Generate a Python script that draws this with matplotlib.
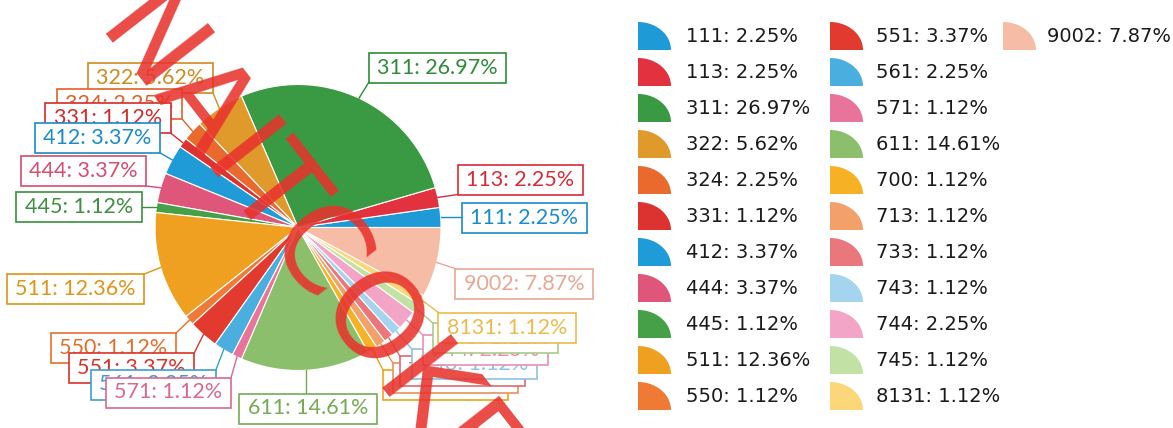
import numpy as np
import matplotlib
matplotlib.use("Agg")
import matplotlib.pyplot as plt
from matplotlib.patches import Rectangle, Polygon

# ---------------- data ----------------
categories = ["111", "113", "311", "322", "324", "331", "412", "444", "445",
              "511", "550", "551", "561", "571", "611", "700", "713", "733",
              "743", "744", "745", "8131", "9002"]
percentages = [2.25, 2.25, 26.97, 5.62, 2.25, 1.12, 3.37, 3.37, 1.12,
               12.36, 1.12, 3.37, 2.25, 1.12, 14.61, 1.12, 1.12, 1.12,
               1.12, 2.25, 1.12, 1.12, 7.87]
slice_colors = ["#1e9ad6", "#e2313f", "#3a9a44", "#e09a2c", "#ea6a2e", "#dc3330",
                "#1f9bd7", "#e0557a", "#46a048", "#f0a020", "#ee7a35", "#e23a2e",
                "#4aaedf", "#e8739b", "#8cbf6c", "#f7b125", "#f3a06a", "#e9777c",
                "#a5d5ee", "#f2a5c6", "#c2e1a4", "#fbd77a", "#f6bca5"]
label_colors = ["#1a8cc8", "#d62b38", "#2f8a3a", "#d08a20", "#e0602a", "#cf2e2c",
                "#1a8cc8", "#d84c70", "#3c9040", "#e09418", "#e46e2c", "#d8342a",
                "#3a9ed0", "#dc6890", "#76ab56", "#eca418", "#e8925c", "#de6a70",
                "#8cc4e0", "#e890b6", "#a8cc88", "#eabc50", "#e8a896"]
watermark = "NAITCOKE"

# ---------------- layout (pixel units) ----------------
W, H = 1173, 428
CX, CY, R = 298, 227.5, 143
label_centers = [(524, 218), (520.5, 179.5), (437.5, 67.5), (150.5, 78), (119.5, 104),
                 (108, 118), (97.5, 138), (83.5, 171), (79, 206.5), (75.5, 289),
                 (113.5, 348), (131.5, 368), (153.5, 384.5), (168.5, 392.5),
                 (308, 408.5), (445.5, 385), (455.5, 378), (462.5, 371),
                 (474.5, 364), (485.5, 350), (495.5, 338), (507, 327.5), (524, 283.5)]
BOX_H = 30
PAD_X = 8.5
leg_rows = 11
leg_marker_x = [638, 830, 1003]
leg_text_x = [686, 876, 1047]
leg_row0, leg_dy = 36, 36
mk_w, mk_h = 33, 28

fig = plt.figure(figsize=(W / 100, H / 100), dpi=100)
ax = fig.add_axes([0, 0, 1, 1])

wedges, _ = ax.pie(percentages, colors=slice_colors, startangle=0, counterclock=False,
                   center=(CX, CY), radius=R,
                   wedgeprops=dict(edgecolor="white", linewidth=0.8))
ax.set_xlim(0, W)
ax.set_ylim(H, 0)
ax.set_aspect("auto")
ax.axis("off")

renderer = fig.canvas.get_renderer()
total = sum(percentages)
cum = 0.0
for i, (cat, p) in enumerate(zip(categories, percentages)):
    mid = np.deg2rad((cum + p / 2) / total * 360)
    cum += p
    ex, ey = CX + R * np.cos(mid), CY - R * np.sin(mid)
    lx, ly = label_centers[i]
    z = 3 + 3 * i
    t = ax.text(lx, ly, f"{cat}: {p:.2f}%", ha="center", va="center",
                fontfamily="Lato", fontsize=15.5, color=label_colors[i], zorder=z + 2)
    bb = t.get_window_extent(renderer)
    bw = bb.width + 2 * PAD_X
    x0, x1 = lx - bw / 2, lx + bw / 2
    y0, y1 = ly - BOX_H / 2, ly + BOX_H / 2
    ax.add_patch(Rectangle((x0, y0), bw, BOX_H, facecolor="white",
                           edgecolor=label_colors[i], linewidth=1.2, zorder=z + 1))
    qx, qy = np.clip(ex, x0, x1), np.clip(ey, y0, y1)
    ax.plot([ex, qx], [ey, qy], color=label_colors[i], lw=1.0, zorder=z)

# legend with quarter-circle markers
tt = np.linspace(np.pi / 2, 0, 30)
for k, (cat, p) in enumerate(zip(categories, percentages)):
    col, row = k // leg_rows, k % leg_rows
    yc = leg_row0 + leg_dy * row
    mx = leg_marker_x[col]
    yb = yc + mk_h / 2
    pts = [(mx, yb)] + [(mx + mk_w * np.cos(a), yb - mk_h * np.sin(a)) for a in tt]
    ax.add_patch(Polygon(pts, closed=True, facecolor=slice_colors[k], edgecolor="none",
                         zorder=2))
    ax.text(leg_text_x[col], yc, f"{cat}: {p:.2f}%", ha="left", va="center",
            fontfamily="DejaVu Sans", fontsize=14, color="#1a1a1a", zorder=2)

# red diagonal watermark
ax.text(305, 250, watermark, rotation=-52, rotation_mode="anchor", ha="center",
        va="center", fontfamily="DejaVu Sans", fontsize=86, color="#e8322c",
        alpha=0.88, zorder=200)

fig.savefig("out.png", dpi=100)
